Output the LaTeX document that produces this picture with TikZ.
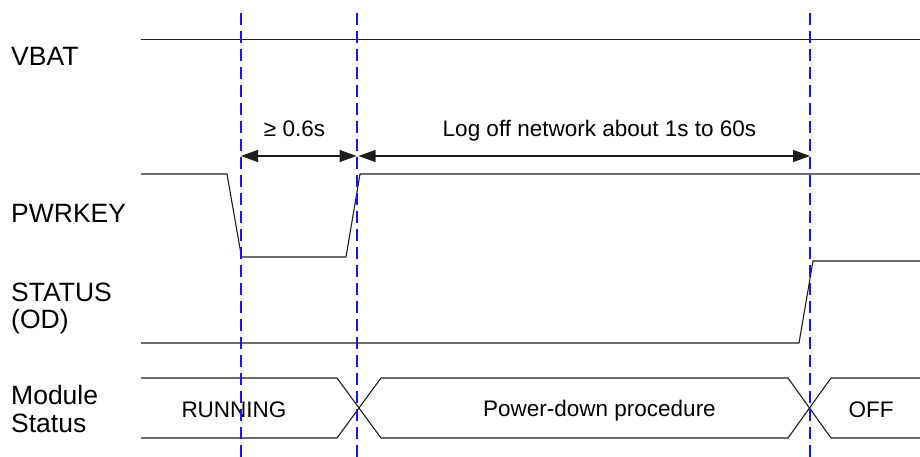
\documentclass[tikz,border=0pt]{standalone}
\usepackage{fontspec}
\setmainfont{Liberation Sans}
\usetikzlibrary{arrows.meta}
\definecolor{guideblue}{RGB}{20,20,255}
\definecolor{sigline}{RGB}{30,30,30}
\begin{document}
\begin{tikzpicture}[x=1pt,y=-1pt,
  sig/.style={draw=sigline, line width=1.1pt, line join=miter},
  guide/.style={draw=guideblue, line width=1.5pt, dash pattern=on 12pt off 6pt},
  lbl/.style={anchor=base west, inner sep=0pt, font=\fontsize{26.5}{28}\selectfont},
  txt/.style={anchor=base, inner sep=0pt, font=\fontsize{22.5}{25}\selectfont},
  dimarrow/.style={draw=sigline, line width=1.1pt, {Triangle[length=17pt,width=12pt]}-{Triangle[length=17pt,width=12pt]}}]
\useasboundingbox (0,0) rectangle (920,457);

% left labels
\node[lbl] (vbat) at (11,66) {VBAT};
\node[lbl] (pwrkey) at (11,222) {PWRKEY};
\node[lbl] (status1) at (11,301) {STATUS};
\node[lbl] (status2) at (11,328) {(OD)};
\node[lbl] (module1) at (11,404) {Module};
\node[lbl] (module2) at (11,432) {Status};

% VBAT
\draw[sig] (141,39.5) -- (920,39.5);

% PWRKEY
\draw[sig] (141,174) -- (227,174) -- (241.5,257) -- (346,257) -- (360,174) -- (920,174);

% STATUS
\draw[sig] (141,343) -- (799,343) -- (813,261) -- (920,261);

% Module status
\draw[sig] (141,378) -- (337,378) -- (381,438) -- (788,438) -- (831,378) -- (920,378);
\draw[sig] (141,438) -- (337,438) -- (381,378) -- (788,378) -- (831,438) -- (920,438);

\node[txt] (running) at (234,417) {RUNNING};
\node[txt] (powerdown) at (599.5,416) {Power-down procedure};
\node[txt] (off) at (871,417) {OFF};

% guide lines
\coordinate (g1t) at (241,13);  \coordinate (g1b) at (241,457);
\coordinate (g2t) at (357,13);  \coordinate (g2b) at (357,457);
\coordinate (g3t) at (810,13);  \coordinate (g3b) at (810,457);

% dimension arrows
\coordinate (a1) at (241,156);
\coordinate (a2) at (356.5,156);
\coordinate (a3) at (358.5,156);
\coordinate (a4) at (810,156);
\draw[dimarrow] (a1) -- (a2);
\draw[dimarrow] (a3) -- (a4);
\node[txt] (t06) at (294.5,137) {≥ 0.6s};
\node[txt] (tlog) at (599.5,137) {Log off network about 1s to 60s};

\draw[guide] (g1t) -- (g1b);
\draw[guide] (g2t) -- (g2b);
\draw[guide] (g3t) -- (g3b);
\end{tikzpicture}
\end{document}
